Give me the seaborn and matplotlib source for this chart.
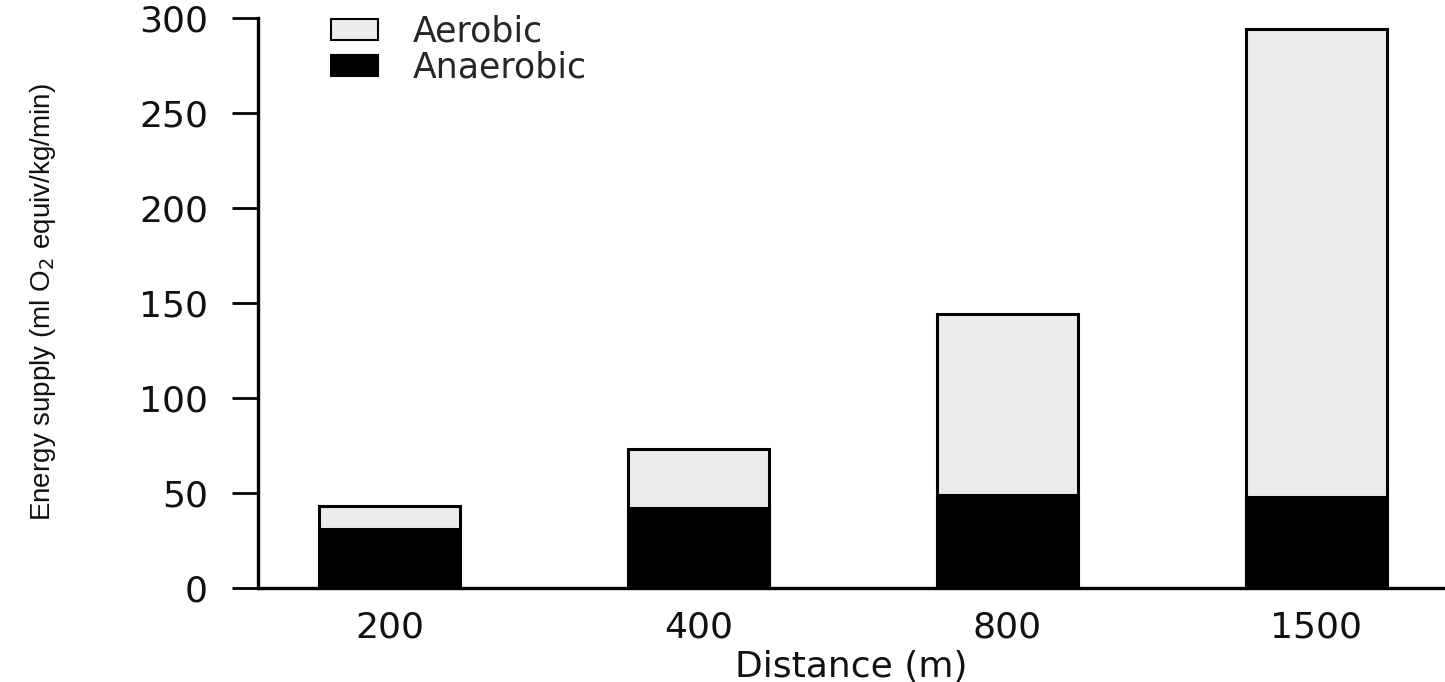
import matplotlib
matplotlib.use("Agg")
import matplotlib.pyplot as plt
import seaborn as sns
import pandas as pd
from matplotlib.patches import Patch

distances = ["200", "400", "800", "1500"]
anaerobic = [31, 42, 49, 48]
aerobic = [12, 31, 95, 246]
yticks = [0, 50, 100, 150, 200, 250, 300]

totals = [a + b for a, b in zip(anaerobic, aerobic)]
df = pd.DataFrame({"Distance": distances, "Anaerobic": anaerobic, "Total": totals})

sns.set_theme(style="white")
plt.rcParams["font.family"] = ["DejaVu Sans"]

W, H = 1445, 682
fig = plt.figure(figsize=(W / 100, H / 100), dpi=100)
ax = fig.add_axes([258 / W, 94 / H, 1 - 258 / W, (588 - 18) / H])

light = "#ececec"
sns.barplot(data=df, x="Distance", y="Total", color=light, edgecolor="black",
            linewidth=2.2, width=0.456, saturation=1, ax=ax)
sns.barplot(data=df, x="Distance", y="Anaerobic", color="black", edgecolor="black",
            linewidth=2.2, width=0.456, saturation=1, ax=ax)

ax.set_xlim(-0.426, 3.416)
ax.set_ylim(0, 300)
ax.set_yticks(yticks)
ax.set_yticklabels([str(t) for t in yticks])

for s in ["top", "right"]:
    ax.spines[s].set_visible(False)
for s in ["left", "bottom"]:
    ax.spines[s].set_color("black")
    ax.spines[s].set_linewidth(2.4)

ax.tick_params(axis="y", which="major", direction="out", length=19, width=2,
               color="black", labelsize=26, pad=17, labelcolor="#111111", left=True)
ax.tick_params(axis="x", length=0, labelsize=26, pad=16, labelcolor="#111111")

ax.set_xlabel("Distance (m)", fontsize=26, color="#111111", labelpad=4)
ax.set_ylabel("Energy supply (ml O$_2$ equiv/kg/min)", fontsize=20, color="#111111",
              family=["Liberation Sans"])
ax.yaxis.set_label_coords(-(258 - 58) / (W - 258), (588 - 302) / 570)

handles = [Patch(facecolor=light, edgecolor="black", linewidth=1.5, label="Aerobic"),
           Patch(facecolor="black", edgecolor="black", linewidth=1.5, label="Anaerobic")]
fig.legend(handles=handles, loc="upper left", bbox_to_anchor=(331 / W, 1 - 15 / H),
           frameon=False, fontsize=25, handlelength=1.35, handleheight=0.55,
           handletextpad=1.0, labelspacing=0.05, borderpad=0, borderaxespad=0)

fig.savefig("out.png", dpi=100)
